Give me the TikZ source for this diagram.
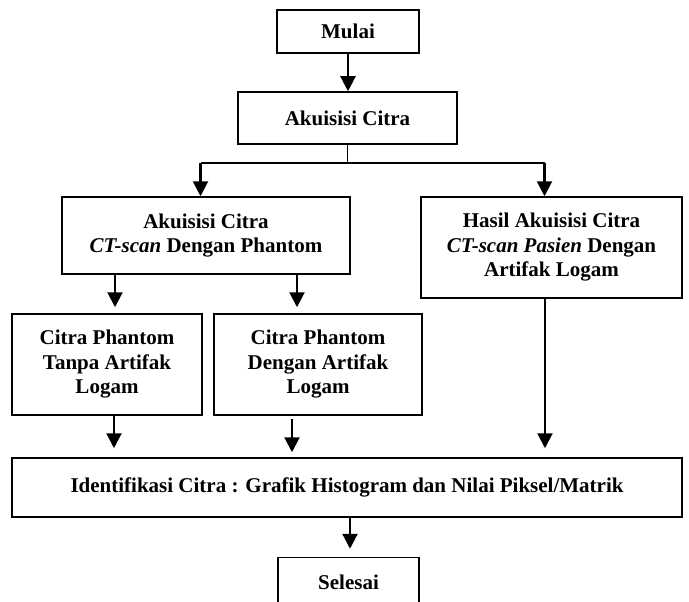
\documentclass[tikz,border=0pt]{standalone}
\usepackage{fontspec}
\setmainfont{Liberation Serif}
\usetikzlibrary{arrows.meta,calc}
\tikzset{
  box/.style={draw, line width=1.5pt, inner sep=0pt, align=center,
    font=\fontsize{21}{24.5}\selectfont\bfseries},
  arr/.style={line width=2.2pt, -{Triangle[width=15pt,length=15pt]}},
  ln/.style={line width=1.8pt}
}
\begin{document}
\begin{tikzpicture}[x=1pt,y=-1pt]
\useasboundingbox (0,0) rectangle (689,602);
\node[box, minimum width=142pt, minimum height=43pt] (mulai) at (348,31.5) {Mulai};
\node[box, minimum width=219pt, minimum height=52pt] (akuisisi) at (347.5,118) {Akuisisi Citra};
\node[box, minimum width=288pt, minimum height=77pt] (phantom) at (206,235.5) {Akuisisi Citra\\\textit{CT-scan} Dengan Phantom};
\node[box, minimum width=261pt, minimum height=101pt] (hasil) at (551.5,247.5) {Hasil Akuisisi Citra\\\textit{CT-scan Pasien} Dengan\\Artifak Logam};
\node[box, minimum width=190pt, minimum height=101pt] (tanpa) at (107,364.5) {Citra Phantom\\Tanpa Artifak\\Logam};
\node[box, minimum width=208pt, minimum height=101pt] (dengan) at (318,364.5) {Citra Phantom\\Dengan Artifak\\Logam};
\node[box, minimum width=670pt, minimum height=59pt] (ident) at (347,487.5) {\raisebox{4pt}{Identifikasi Citra : Grafik Histogram dan Nilai Piksel/Matrik}};
\node[box, minimum width=141pt, minimum height=50pt] (selesai) at (348.5,582.5) {Selesai};

\draw[arr] (mulai.south) -- (mulai.south |- akuisisi.north);
\draw[ln] (akuisisi.south) -- ++(0,18) coordinate (split);
\draw[ln] ($(split)+(-147,0)$) coordinate (sl) -- ($(split)+(197,0)$) coordinate (sr);
\draw[arr] (sl) -- (sl |- phantom.north);
\draw[arr] (sr) -- (sr |- hasil.north);

\draw[arr] ($(phantom.south)+(-91,0)$) -- ($(tanpa.north)+(8,-6)$);
\draw[arr] ($(phantom.south)+(91,0)$) -- ($(dengan.north)+(-21,-6)$);

\draw[arr] ($(tanpa.south)+(7,0)$) -- ($(ident.north)+(-233,-9)$);
\draw[arr] ($(dengan.south)+(-26,3)$) -- ($(ident.north)+(-55,-5)$);
\draw[arr] ($(hasil.south)+(-6.5,0)$) -- ($(ident.north)+(198,-9)$);
\draw[arr] ($(ident.south)+(3,0)$) -- ($(selesai.north)+(1.5,-8)$);
\end{tikzpicture}
\end{document}
